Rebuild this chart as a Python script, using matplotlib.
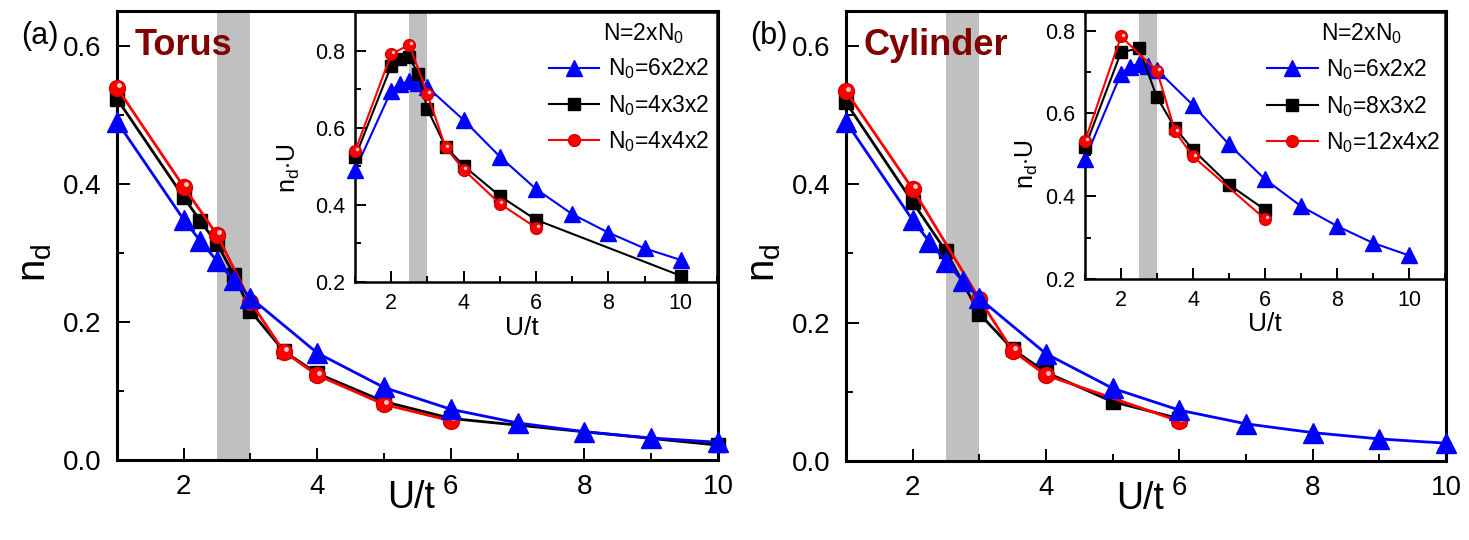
import matplotlib
matplotlib.use("Agg")
import matplotlib.pyplot as plt
from matplotlib.ticker import MultipleLocator, FormatStrFormatter
from matplotlib.transforms import offset_copy
import numpy as np

plt.rcParams['font.family'] = ['Liberation Sans', 'DejaVu Sans']
plt.rcParams['mathtext.fontset'] = 'custom'
plt.rcParams['mathtext.rm'] = 'Liberation Sans'
plt.rcParams['mathtext.it'] = 'Liberation Sans:italic'

# 6x2x2 cluster (same in both panels)
U_622 = np.array([1, 2, 2.25, 2.5, 2.75, 3, 4, 5, 6, 7, 8, 9, 10])
nd_622 = np.array([0.490, 0.348, 0.317, 0.288, 0.260, 0.235, 0.155,
                   0.105, 0.0735, 0.0537, 0.0410, 0.0319, 0.0257])

# torus: 4x3x2 and 4x4x2
U_432 = np.array([1, 2, 2.25, 2.5, 2.75, 3, 3.5, 4, 5, 6, 10])
nd_432 = np.array([0.523, 0.3805, 0.3458, 0.3132, 0.2684, 0.216, 0.1574,
                   0.1253, 0.0846, 0.0602, 0.0216])
U_442 = np.array([1, 2, 2.5, 3, 3.5, 4, 5, 6])
nd_442 = np.array([0.539, 0.3955, 0.326, 0.229, 0.1569, 0.1228, 0.0806, 0.0568])

# cylinder: 8x3x2 and 12x4x2
U_832 = np.array([1, 2, 2.5, 3, 3.5, 4, 5, 6])
nd_832 = np.array([0.518, 0.374, 0.3028, 0.213, 0.1614, 0.128, 0.0856, 0.0612])
U_1242 = np.array([1, 2, 3, 3.5, 4, 6])
nd_1242 = np.array([0.534, 0.393, 0.2343, 0.1591, 0.124, 0.0575])

band = (2.5, 3.0)

panels = [
    dict(tag='(a)', name='Torus',
         series=[(U_622, nd_622, 'N$_0$=6x2x2'),
                 (U_432, nd_432, 'N$_0$=4x3x2'),
                 (U_442, nd_442, 'N$_0$=4x4x2')],
         main=[0.0796, 0.1481, 0.4091, 0.8315],
         inset=[0.2417, 0.4778, 0.2464, 0.5000], inset_ylim=(0.2, 0.9),
         leg=(0.536, 0.835), title_xy=(0.685, 0.92), ixlab=0.46, iylab=(-0.146, 0.42)),
    dict(tag='(b)', name='Cylinder',
         series=[(U_622, nd_622, 'N$_0$=6x2x2'),
                 (U_832, nd_832, 'N$_0$=8x3x2'),
                 (U_1242, nd_1242, 'N$_0$=12x4x2')],
         main=[0.5759, 0.1463, 0.4084, 0.8333],
         inset=[0.7386, 0.4833, 0.2451, 0.4944], inset_ylim=(0.2, 0.845),
         leg=(0.506, 0.83), title_xy=(0.655, 0.92), ixlab=0.5, iylab=(-0.125, 0.43)),
]

colors = ['#0000ff', '#000000', '#ff0000']
markers = ['^', 's', 'o']
ms_main = [14, 9.5, 11.5]
ms_ins = [11, 8, 8.5]
z_main = [5, 3, 4]
z_ins = [3, 4, 5]


def style(ax, spine_w):
    for s in ax.spines.values():
        s.set_linewidth(spine_w)
    ax.tick_params(which='both', direction='in', top=False, right=False, width=1.4)
    ax.tick_params(which='major', length=9)
    ax.tick_params(which='minor', length=5)


fig = plt.figure(figsize=(14.69, 5.4), dpi=100)

for p in panels:
    ax = fig.add_axes(p['main'])
    ax.axvspan(*band, color='#c0c0c0', lw=0, zorder=0)
    for i, (u, nd, lab) in enumerate(p['series']):
        ax.plot(u, nd, color=colors[i], lw=2, marker=markers[i], ms=ms_main[i],
                mec=colors[i] if i != 2 else '#d00000', zorder=z_main[i], clip_on=False)
        if i == 2:
            # glossy highlight on the red spheres
            ax.plot(u, nd, ls='none', marker='o', ms=3.5, color='#ffc8c8', mew=0,
                    zorder=z_main[i] + 0.1, clip_on=False,
                    transform=offset_copy(ax.transData, fig=fig, x=1.5, y=1.8, units='points'))
    ax.set_xlim(1, 10)
    ax.set_ylim(0, 0.65)
    ax.xaxis.set_major_locator(MultipleLocator(2))
    ax.xaxis.set_minor_locator(MultipleLocator(1))
    ax.yaxis.set_major_locator(MultipleLocator(0.2))
    ax.yaxis.set_minor_locator(MultipleLocator(0.1))
    ax.yaxis.set_major_formatter(FormatStrFormatter('%.1f'))
    style(ax, 2.2)
    ax.tick_params(which='major', labelsize=20)
    ax.tick_params(axis='x', pad=10)
    ax.tick_params(axis='y', pad=11)
    ax.set_xlabel('U/t', fontsize=27)
    ax.xaxis.set_label_coords(0.49, -0.045)
    ax.set_ylabel(r'n$_\mathrm{d}$', fontsize=29)
    ax.yaxis.set_label_coords(-0.105, 0.44)
    ax.text(0.03, 0.902, p['name'], transform=ax.transAxes, fontsize=26,
            fontweight='bold', color='#800000', va='baseline')
    ax.text(-0.16, 0.978, p['tag'], transform=ax.transAxes, fontsize=22,
            va='top', ha='left')

    ins = fig.add_axes(p['inset'])
    ins.axvspan(*band, color='#c0c0c0', lw=0, zorder=0)
    for i, (u, nd, lab) in enumerate(p['series']):
        ins.plot(u, nd * u, color=colors[i], lw=1.5, marker=markers[i], ms=ms_ins[i],
                 mec=colors[i] if i != 2 else '#d00000', zorder=z_ins[i], label=lab,
                 clip_on=False)
        if i == 2:
            ins.plot(u, nd * u, ls='none', marker='o', ms=2.5, color='#ffc8c8', mew=0,
                     zorder=z_ins[i] + 0.1, clip_on=False,
                     transform=offset_copy(ins.transData, fig=fig, x=1.1, y=1.3, units='points'))
    ins.set_xlim(1, 11)
    ins.set_ylim(*p['inset_ylim'])
    ins.xaxis.set_major_locator(MultipleLocator(2))
    ins.xaxis.set_minor_locator(MultipleLocator(1))
    ins.yaxis.set_major_locator(MultipleLocator(0.2))
    ins.yaxis.set_minor_locator(MultipleLocator(0.1))
    ins.yaxis.set_major_formatter(FormatStrFormatter('%.1f'))
    style(ins, 1.8)
    ins.tick_params(which='major', labelsize=15.5, length=8)
    ins.tick_params(which='minor', length=4.5)
    ins.tick_params(axis='x', pad=8)
    ins.tick_params(axis='y', pad=7)
    ins.set_xlabel('U/t', fontsize=19)
    ins.xaxis.set_label_coords(p['ixlab'], -0.125)
    ins.set_ylabel(r'n$_\mathrm{d}$$\cdot$U', fontsize=18)
    ins.yaxis.set_label_coords(*p['iylab'])
    ins.legend(loc='upper left', bbox_to_anchor=p['leg'], frameon=False,
               fontsize=16.5, handlelength=2.2, handletextpad=0.35,
               labelspacing=0.5, borderpad=0, borderaxespad=0)
    ins.text(p['title_xy'][0], p['title_xy'][1], 'N=2xN$_0$', transform=ins.transAxes,
             fontsize=16.5, va='center', ha='left')

fig.savefig('out.png', dpi=100)
